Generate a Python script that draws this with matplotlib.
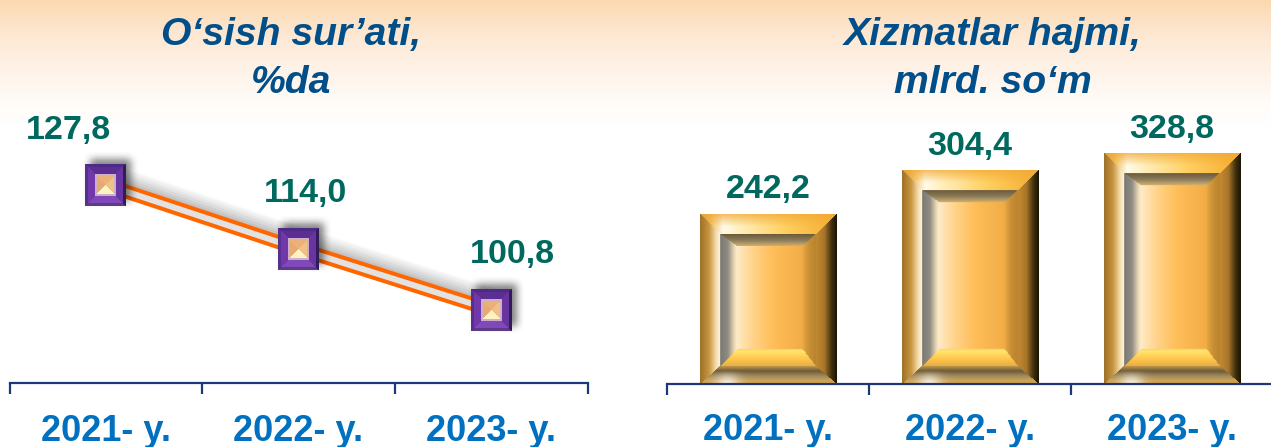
import numpy as np
import matplotlib
matplotlib.use("Agg")
import matplotlib.pyplot as plt
from matplotlib.colors import to_rgb
from matplotlib.offsetbox import OffsetImage, AnnotationBbox
from matplotlib.transforms import offset_copy

W_PX, H_PX = 1271, 447
DPI = 100

# ---------- data ----------
years = ["2021- y.", "2022- y.", "2023- y."]
growth = [127.8, 114.0, 100.8]
growth_labels = ["127,8", "114,0", "100,8"]
volume = [242.2, 304.4, 328.8]
volume_labels = ["242,2", "304,4", "328,8"]
title_left = "O‘sish sur’ati,\n%da"
title_right = "Xizmatlar hajmi,\nmlrd. so‘m"

FONT = "Liberation Sans"
C_TITLE = "#004f8a"
C_VALUE = "#00695f"
C_TICK = "#0070c0"
C_AXIS = "#1c3878"
PX = 72 / DPI


def ramp(t, stops):
    pos = [s[0] for s in stops]
    cols = np.array([to_rgb(s[1]) for s in stops])
    return np.stack([np.interp(t, pos, cols[:, i]) for i in range(3)], axis=-1)


def frame_regions(x, y, W, H, L, R, T, B):
    d = np.stack([x / L, (W - x) / R, y / T, (H - y) / B], axis=0)
    return d.argmin(axis=0), d.min(axis=0)


def bar_face(W, H):
    yy, xx = np.mgrid[0:H, 0:W] + 0.5
    u = xx / W
    img = np.zeros((H, W, 3))
    L, R, T, B = 20, 21, 20, 18
    side, t = frame_regions(xx, yy, W, H, L, R, T, B)
    outer = t < 1

    m = outer & (side == 0)
    img[m] = ramp(t[m], [(0, "#9c7029"), (.45, "#c8963f"), (.8, "#f5dcae"), (1, "#fff4dc")])
    m = outer & (side == 1)
    img[m] = ramp(t[m], [(0, "#1a1304"), (.25, "#3f2f0e"), (.6, "#a8762a"), (1, "#c48a30")])
    m = outer & (side == 2)
    c = ramp(u[m], [(0, "#c08a30"), (.08, "#f0c060"), (.17, "#fffbea"), (.3, "#ffeeb8"),
                    (.62, "#ffcf60"), (1, "#f5ab30")])
    k = (np.clip(0.75 * (1 - t[m] * 1.6), 0, 1))[..., None]
    img[m] = c * (1 - k) + np.array(to_rgb("#f2a936")) * k
    m = outer & (side == 3)
    c = ramp(t[m], [(0, "#e6a535"), (.2, "#c8a25a"), (.45, "#a08a5c"), (.72, "#6e5a38"), (1, "#c09a4c")])
    k = (np.exp(-((u[m] - .2) / .09) ** 2) * .9 * np.clip(1 - 1.3 * t[m], 0, 1))[..., None]
    img[m] = c * (1 - k) + k

    x2, y2 = xx - L, yy - T
    W2, H2 = W - L - R, H - T - B
    inner_zone = ~outer
    L2, R2, T2, B2 = 17, 13, 12, 17
    side2, t2 = frame_regions(x2, y2, W2, H2, L2, R2, T2, B2)
    frame = inner_zone & (t2 < 1)

    m = frame & (side2 == 0)
    img[m] = ramp(t2[m], [(0, "#7a7872"), (.45, "#8f8c82"), (.8, "#e4d2b0"), (1, "#fff0d4")])
    m = frame & (side2 == 1)
    img[m] = ramp(t2[m], [(0, "#b8842e"), (.5, "#c88f36"), (1, "#e8a845")])
    m = frame & (side2 == 2)
    img[m] = ramp(t2[m], [(0, "#6b5a3a"), (.5, "#8a7a58"), (1, "#d0b070")])
    m = frame & (side2 == 3)
    img[m] = ramp(t2[m], [(0, "#e8ae42"), (.45, "#ffc84e"), (.88, "#ffe66e"), (1, "#ffcf60")])

    m = inner_zone & (t2 >= 1)
    ui = (x2[m] - L2) / (W2 - L2 - R2)
    img[m] = ramp(ui, [(0, "#ffe9c4"), (.25, "#ffd288"), (.55, "#ffbe58"), (1, "#f2ac46")])
    return img


def marker_face(W=41, H=42, pad=20):
    yy, xx = np.mgrid[0:H, 0:W] + 0.5
    img = np.zeros((H, W, 3))
    side, t = frame_regions(xx, yy, W, H, 3.5, 3.5, 3.5, 3.5)
    m = t < 1
    for s, col in enumerate(["#55308f", "#2f1c58", "#4c2a86", "#5c3c88"]):
        img[m & (side == s)] = to_rgb(col)
    x2, y2 = xx - 3.5, yy - 3.5
    W2, H2 = W - 7, H - 7
    side2, t2 = frame_regions(x2, y2, W2, H2, 7, 7, 7, 7)
    m = (t >= 1) & (t2 < 1)
    for s, col in enumerate(["#7038a8", "#6a34a0", "#5c2e94", "#8048b8"]):
        img[m & (side2 == s)] = to_rgb(col)
    x3, y3 = x2 - 7, y2 - 7
    W3, H3 = W2 - 14, H2 - 14
    side3, t3 = frame_regions(x3, y3, W3, H3, W3 / 2, W3 / 2, H3 / 2, H3 / 2)
    m = (t >= 1) & (t2 >= 1)
    for s, col in enumerate(["#e8aa72", "#efc088", "#eab27a", "#fff3c4"]):
        img[m & (side3 == s)] = to_rgb(col)
    rim = m & (t3 * min(W3, H3) / 2 < 1.5)
    img[rim] = to_rgb("#cdb0c8")

    # blurred shadow, offset up and to the right
    A = np.zeros((H + 2 * pad, W + 2 * pad))
    A[pad - 5:pad - 5 + H, pad + 5:pad + 5 + W] = 0.5
    kernel = np.ones(9) / 9
    for _ in range(2):
        A = np.apply_along_axis(lambda r: np.convolve(r, kernel, mode="same"), 0, A)
        A = np.apply_along_axis(lambda r: np.convolve(r, kernel, mode="same"), 1, A)
    out = np.zeros(A.shape + (4,))
    out[..., 3] = A
    out[pad:pad + H, pad:pad + W, :3] = img
    out[pad:pad + H, pad:pad + W, 3] = 1
    return out


def make_axes(fig, x0, x1, y_top, y_bottom):
    return fig.add_axes([x0 / W_PX, 1 - y_bottom / H_PX,
                         (x1 - x0) / W_PX, (y_bottom - y_top) / H_PX])


def style_axis(ax, labels, pad):
    ax.patch.set_alpha(0)
    for s in ("top", "left", "right"):
        ax.spines[s].set_visible(False)
    ax.spines["bottom"].set_color(C_AXIS)
    ax.spines["bottom"].set_linewidth(1.6)
    ax.set_yticks([])
    n = len(labels)
    ax.set_xlim(-.5, n - .5)
    ax.set_xticks(np.arange(n + 1) - .5)
    ax.set_xticklabels([])
    ax.tick_params(axis="x", which="major", length=11 * PX, width=1.6, color=C_AXIS)
    ax.set_xticks(np.arange(n), minor=True)
    ax.set_xticklabels(labels, minor=True, family=FONT, weight="bold", fontsize=26, color=C_TICK)
    ax.tick_params(axis="x", which="minor", length=0, pad=pad)


fig = plt.figure(figsize=(W_PX / DPI, H_PX / DPI), dpi=DPI, facecolor="white")

# page background gradient
bg = fig.add_axes([0, 0, 1, 1], zorder=-1)
bg.axis("off")
yb = np.arange(H_PX)
grad = ramp(yb, [(0, "#fbd9b0"), (30, "#fde6cf"), (60, "#fef0e3"), (100, "#fffbf7"), (125, "#ffffff"), (447, "#ffffff")])
bg.imshow(grad[:, None, :], aspect="auto", extent=(0, 1, 0, 1))

# ---------- left: line ----------
axL = make_axes(fig, 9.5, 587.5, 130, 383)
style_axis(axL, years, 22)
xs = np.arange(len(growth))
axL.set_ylim(85, 85 + 253 / 4.63)
for dx, dy, lw, a in [(4, 13, 16, .04), (4, 11, 16, .05), (3, 9, 15, .06), (3, 7, 14, .07),
                      (2, 5, 13, .08), (1.5, 3, 12, .09)]:
    tr = offset_copy(axL.transData, fig=fig, x=dx, y=dy, units="dots")
    axL.plot(xs, growth, color="#555555", lw=lw * PX, alpha=a, transform=tr, zorder=1,
             solid_capstyle="butt")
axL.plot(xs, growth, color="#ff6600", lw=14 * PX, zorder=2, solid_capstyle="butt")
axL.plot(xs, growth, color="#e2e2e2", lw=6 * PX, zorder=3, solid_capstyle="butt")
mk = marker_face()
for x, v in zip(xs, growth):
    ab = AnnotationBbox(OffsetImage(mk, zoom=1, dpi_cor=False, interpolation="nearest"), (x, v),
                        frameon=False, pad=0, zorder=4, annotation_clip=False)
    axL.add_artist(ab)
for x, v, s, off in zip(xs, growth, growth_labels, [(-37, 46), (7, 47), (21, 47)]):
    axL.annotate(s, (x, v), xytext=(off[0] * PX, off[1] * PX), textcoords="offset points",
                 ha="center", va="baseline", family=FONT, weight="bold", fontsize=24.5,
                 color=C_VALUE, zorder=6, annotation_clip=False)

# ---------- right: bars ----------
axR = make_axes(fig, 667, 1273, 130, 384)
style_axis(axR, years, 21)
axR.set_ylim(0, 254 / 0.70)
bar_w = 0.675
bars = axR.bar(xs, volume, width=bar_w, color="#ffbe5c", zorder=1)
for b in bars:
    x0, y0 = b.get_x(), b.get_y()
    w, h = b.get_width(), b.get_height()
    p0 = axR.transData.transform((x0, y0))
    p1 = axR.transData.transform((x0 + w, y0 + h))
    W, H = int(round(p1[0] - p0[0])), int(round(p1[1] - p0[1]))
    axR.imshow(bar_face(W, H), extent=(x0, x0 + w, y0, y0 + h), aspect="auto",
               zorder=2, interpolation="bilinear")
axR.set_xlim(-.5, len(volume) - .5)
axR.set_ylim(0, 254 / 0.70)
for x, v, s in zip(xs, volume, volume_labels):
    axR.annotate(s, (x, v), xytext=(0, 16 * PX), textcoords="offset points",
                 ha="center", va="baseline", family=FONT, weight="bold", fontsize=24.5,
                 color=C_VALUE, zorder=6, annotation_clip=False)

# ---------- titles ----------
for cx, s in [(291, title_left), (993, title_right)]:
    fig.text(cx / W_PX, 1 - 93 / H_PX, s, ha="center", va="baseline", family=FONT,
             weight="bold", style="italic", fontsize=28.2, color=C_TITLE, linespacing=1.42)

fig.savefig("out.png", dpi=DPI)
